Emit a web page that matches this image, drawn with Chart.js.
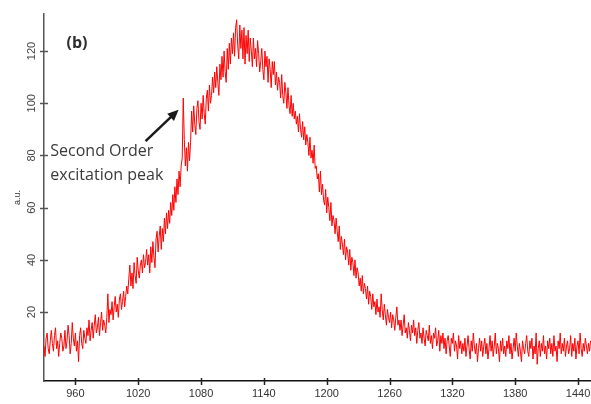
<!DOCTYPE html>
<html>
<head>
<meta charset="utf-8">
<title>Second order excitation peak</title>
<script src="https://cdn.jsdelivr.net/npm/chart.js@4.4.3/dist/chart.umd.js"></script>
<style>
  html, body { margin: 0; padding: 0; background: #fff; }
  #wrap { width: 591px; height: 404px; }
</style>
</head>
<body>
<div id="wrap"><canvas id="spectrum" width="591" height="404"></canvas></div>
<script>
const startNm = 930;
const stepNm = 1;
const intensity = [
  7, 3, 10, 12, 6, 4, 9, 13, 8, 5, 11, 14, 6, 9, 3, 8, 12, 10, 5, 7,
  13, 6, 9, 15, 11, 4, 8, 16, 10, 7, 12, 5, 9, 1, 11, 14, 8, 6, 13, 10,
  8, 14, 11, 17, 9, 13, 16, 10, 15, 19, 12, 14, 18, 11, 16, 20, 13, 17, 15, 12,
  18, 27, 16, 21, 19, 24, 17, 22, 26, 20, 23, 18, 25, 27, 21, 24, 28, 22, 26, 30,
  27, 33, 38, 30, 35, 29, 39, 34, 31, 41, 36, 33, 38, 40, 35, 42, 37, 39, 44, 38,
  42, 35, 45, 39, 47, 41, 37, 48, 51, 43, 49, 53, 44, 52, 47, 56, 50, 58, 52, 59,
  54, 62, 57, 65, 59, 68, 62, 71, 65, 74, 68, 76, 79, 102, 86, 76, 83, 74, 85, 78,
  85, 97, 89, 99, 92, 88, 98, 101, 93, 90, 100, 94, 103, 96, 92, 102, 105, 97, 107, 100,
  103, 110, 104, 112, 106, 114, 108, 103, 115, 109, 118, 110, 120, 112, 108, 121, 113, 123, 115, 125,
  119, 127, 118, 129, 132, 122, 117, 130, 121, 128, 117, 129, 115, 126, 119, 128, 116, 125, 120, 114,
  125, 117, 121, 114, 124, 119, 112, 116, 121, 113, 109, 120, 114, 118, 108, 117, 113, 106, 116, 111,
  116, 107, 112, 105, 110, 108, 102, 111, 103, 100, 108, 104, 98, 106, 99, 96, 103, 95, 100, 94,
  97, 92, 95, 89, 96, 90, 87, 93, 86, 91, 84, 88, 85, 80, 87, 79, 82, 77, 84, 75,
  76, 71, 73, 66, 74, 65, 69, 63, 61, 67, 58, 64, 60, 55, 62, 53, 57, 55, 50, 56,
  51, 47, 53, 44, 49, 46, 42, 48, 40, 45, 43, 38, 44, 36, 41, 39, 34, 40, 33, 37,
  35, 30, 33, 28, 34, 27, 31, 29, 25, 30, 23, 28, 26, 21, 27, 22, 24, 19, 25, 20,
  22, 18, 27, 21, 17, 23, 19, 15, 21, 18, 16, 20, 14, 19, 17, 13, 18, 22, 15, 17,
  13, 17, 11, 15, 19, 12, 14, 10, 16, 13, 9, 15, 12, 17, 11, 14, 8, 13, 16, 10,
  12, 8, 14, 10, 7, 13, 11, 9, 15, 8, 11, 6, 12, 10, 14, 7, 9, 13, 5, 11,
  8, 12, 6, 10, 4, 9, 11, 7, 3, 10, 8, 12, 5, 9, 7, 2, 11, 6, 9, 4,
  8, 5, 10, 3, 7, 11, 6, 2, 9, 5, 12, 7, 4, 8, 1, 6, 10, 5, 9, 3,
  7, 10, 4, 8, 2, 6, 11, 5, 9, 3, 7, 12, 4, 8, 6, 1, 9, 5, 10, 4,
  7, 3, 9, 6, 11, 4, 8, 2, 6, 10, 5, 12, 7, 3, 8, 5, 1, 9, 6, 4,
  8, 11, 5, 3, 9, 6, 10, 2, 7, 4, 12, 0, 6, 9, 3, 8, 5, 11, 4, 7,
  2, 9, 6, 10, 4, 8, 3, 11, 5, 7, 1, 9, 6, 12, 4, 8, 5, 10, 3, 7,
  9, 4, 6, 11, 3, 8, 5, 10, 2, 7, 9, 4, 12, 6, 3, 8, 5, 10, 7, 4,
  8, 5, 9
];
const xTicks = [960, 1020, 1080, 1140, 1200, 1260, 1320, 1380, 1440];
const yTicks = [20, 40, 60, 80, 100, 120];
const yTitle = 'a.u.';
const panelLabel = '(b)';
const noteLines = ['Second Order', 'excitation peak'];

const points = intensity.map((v, i) => ({ x: startNm + i * stepNm, y: v }));

// tick marks crossing the axes + the "(b)" label and arrow note
const extras = {
  id: 'extras',
  afterDraw(chart) {
    const ctx = chart.ctx;
    const xs = chart.scales.x;
    const ys = chart.scales.y;
    const area = chart.chartArea;
    ctx.save();

    ctx.strokeStyle = '#222';
    ctx.lineWidth = 1.5;
    xs.ticks.forEach(t => {
      const px = Math.round(xs.getPixelForValue(t.value)) + 0.5;
      ctx.beginPath();
      ctx.moveTo(px, area.bottom - 3);
      ctx.lineTo(px, area.bottom + 4);
      ctx.stroke();
    });
    ctx.strokeStyle = '#555';
    ys.ticks.forEach(t => {
      const py = Math.round(ys.getPixelForValue(t.value)) + 0.5;
      ctx.beginPath();
      ctx.moveTo(area.left - 4, py);
      ctx.lineTo(area.left + 4, py);
      ctx.stroke();
    });

    ctx.fillStyle = '#2e2e2e';
    ctx.textBaseline = 'middle';
    ctx.textAlign = 'left';
    ctx.font = 'bold 16px "Open Sans"';
    ctx.fillText(panelLabel, xs.getPixelForValue(951.5), ys.getPixelForValue(123));

    ctx.fillStyle = '#3a3a3a';
    ctx.font = '16px "Open Sans"';
    ctx.fillText(noteLines[0], xs.getPixelForValue(936), ys.getPixelForValue(81.7));
    ctx.fillText(noteLines[1], xs.getPixelForValue(936), ys.getPixelForValue(72.4));

    // arrow
    const x0 = xs.getPixelForValue(1027), y0 = ys.getPixelForValue(85.5);
    const x1 = xs.getPixelForValue(1058.5), y1 = ys.getPixelForValue(97.5);
    const ang = Math.atan2(y1 - y0, x1 - x0);
    const head = 12;
    ctx.strokeStyle = '#1a1a1a';
    ctx.fillStyle = '#1a1a1a';
    ctx.lineWidth = 2.5;
    ctx.beginPath();
    ctx.moveTo(x0, y0);
    ctx.lineTo(x1 - Math.cos(ang) * head * 0.8, y1 - Math.sin(ang) * head * 0.8);
    ctx.stroke();
    ctx.beginPath();
    ctx.moveTo(x1, y1);
    ctx.lineTo(x1 - head * Math.cos(ang - 0.42), y1 - head * Math.sin(ang - 0.42));
    ctx.lineTo(x1 - head * Math.cos(ang + 0.42), y1 - head * Math.sin(ang + 0.42));
    ctx.closePath();
    ctx.fill();

    ctx.restore();
  }
};

new Chart(document.getElementById('spectrum'), {
  type: 'line',
  data: {
    datasets: [{
      data: points,
      borderColor: 'rgb(255, 0, 0)',
      borderWidth: 1,
      pointRadius: 0,
      tension: 0,
      fill: false
    }]
  },
  options: {
    responsive: false,
    animation: false,
    parsing: false,
    layout: { padding: { top: 14, right: 0, bottom: 0, left: 0 } },
    plugins: { legend: { display: false }, tooltip: { enabled: false } },
    scales: {
      x: {
        type: 'linear',
        min: 930,
        max: 1452.4,
        afterBuildTicks: s => { s.ticks = xTicks.map(v => ({ value: v })); },
        afterFit: s => { s.height = 23; s.paddingLeft = 0; s.paddingRight = 0; },
        grid: { display: false, drawTicks: false },
        border: { display: true, color: '#111', width: 1.5 },
        ticks: {
          padding: 6,
          maxRotation: 0,
          autoSkip: false,
          color: '#333',
          font: { family: 'Liberation Sans', size: 11 },
          callback: v => String(v)
        }
      },
      y: {
        type: 'linear',
        min: -6.4,
        max: 134.2,
        afterBuildTicks: s => { s.ticks = yTicks.map(v => ({ value: v })); },
        afterFit: s => { s.width = 44; s.paddingTop = 0; s.paddingBottom = 0; },
        grid: { display: false, drawTicks: false },
        border: { display: true, color: '#555', width: 1.5 },
        title: {
          display: true,
          text: yTitle,
          color: '#333',
          font: { family: 'Liberation Sans', size: 9 },
          padding: { top: 12, bottom: 0 }
        },
        ticks: {
          minRotation: 90,
          maxRotation: 90,
          crossAlign: 'center',
          padding: 3,
          autoSkip: false,
          color: '#444',
          font: { family: 'Liberation Sans', size: 11 },
          callback: v => String(v)
        }
      }
    }
  },
  plugins: [extras]
});
</script>
</body>
</html>
